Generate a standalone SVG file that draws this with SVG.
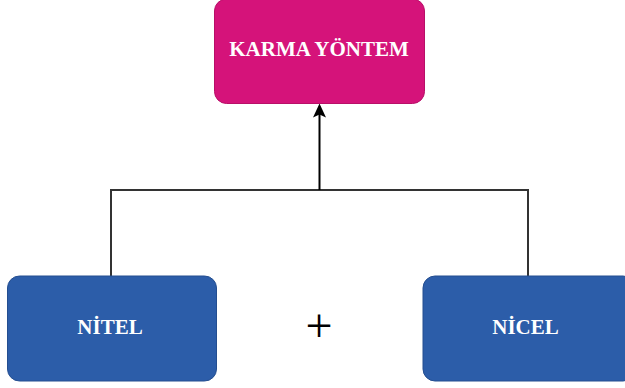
<svg xmlns="http://www.w3.org/2000/svg" width="625" height="388" viewBox="0 0 625 388">
  <style>
    .lbl { font-family: "Liberation Serif", "Times New Roman", serif; font-weight: bold; font-size: 21px; fill: #ffffff; text-anchor: middle; }
    .pink { fill: #D5137A; stroke: #B80F68; stroke-width: 1; }
    .blue { fill: #2C5DA9; stroke: #244E90; stroke-width: 1; }
    .conn { fill: none; stroke: #333333; stroke-width: 2; }
  </style>
  <defs>
    <marker id="arrow" markerWidth="14" markerHeight="13" refX="7.5" refY="6.5" orient="auto" markerUnits="userSpaceOnUse" viewBox="0 0 14 13">
      <path d="M0,0 L14,6.5 L0,13 L3,6.5 Z" fill="#000000"/>
    </marker>
  </defs>
  <rect width="625" height="388" fill="#ffffff"/>
  <g id="connectors">
    <polyline class="conn" points="111,276 111,190 528,190 528,276"/>
    <line x1="319.5" y1="190" x2="319.5" y2="110" stroke="#000000" stroke-width="2" marker-end="url(#arrow)"/>
  </g>
  <g id="karma">
    <rect class="pink" x="214.5" y="-1" width="210" height="104.5" rx="12" ry="12"/>
    <text class="lbl" x="319" y="56">KARMA YÖNTEM</text>
  </g>
  <g id="nitel">
    <rect class="blue" x="7.5" y="276" width="209" height="105" rx="12" ry="12"/>
    <text class="lbl" x="110" y="334">NİTEL</text>
  </g>
  <g id="nicel">
    <rect class="blue" x="423" y="276" width="212" height="105" rx="12" ry="12"/>
    <text class="lbl" x="525.5" y="334">NİCEL</text>
  </g>
  <g id="plus">
    <text x="319" y="342" font-family="Liberation Serif, Times New Roman, serif" font-size="48" fill="#000000" text-anchor="middle">+</text>
  </g>
</svg>
